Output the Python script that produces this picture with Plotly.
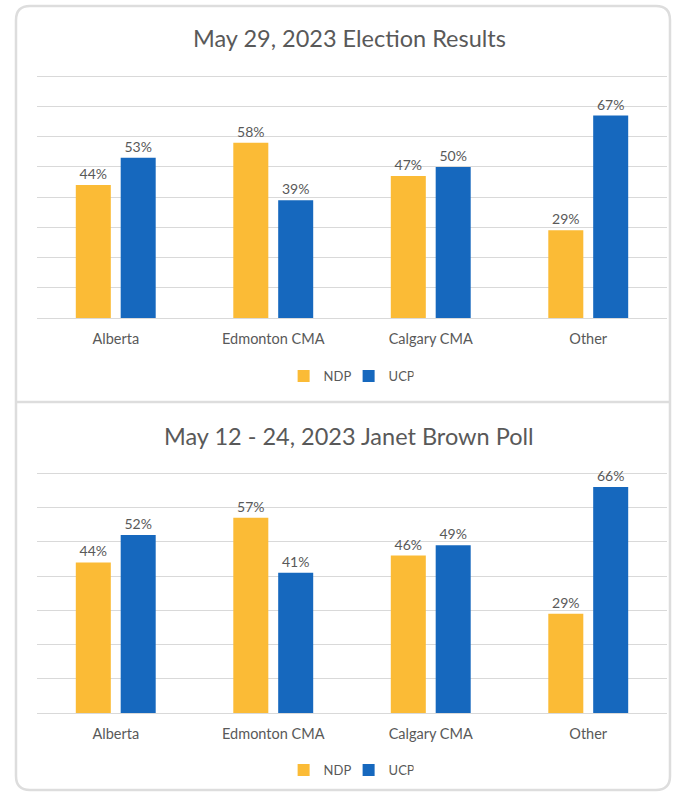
import plotly.graph_objects as go

categories = ["Alberta", "Edmonton CMA", "Calgary CMA", "Other"]
election_ndp = [44, 58, 47, 29]
election_ucp = [53, 39, 50, 67]
poll_ndp = [44, 57, 46, 29]
poll_ucp = [52, 41, 49, 66]
titles = ["May 29, 2023 Election Results", "May 12 - 24, 2023 Janet Brown Poll"]

NDP_COLOR = "#FBBB36"
UCP_COLOR = "#1668BE"
TXT = "#595959"
FONT = "Lato, 'Open Sans', sans-serif"

W, H = 673, 792


def py(px):
    return 1 - px / H


fig = go.Figure()

panels = [
    (election_ndp, election_ucp, "x", "y", "legend"),
    (poll_ndp, poll_ucp, "x2", "y2", "legend2"),
]
for ndp, ucp, xa, ya, lg in panels:
    for name, vals, col in [("NDP", ndp, NDP_COLOR), ("UCP", ucp, UCP_COLOR)]:
        fig.add_trace(go.Bar(
            x=categories, y=vals, name=name, marker_color=col,
            marker_line_width=0,
            text=[f"{v}%" for v in vals], textposition="outside",
            textfont=dict(size=14, color=TXT, family=FONT),
            cliponaxis=False,
            xaxis=xa, yaxis=ya, legend=lg,
        ))

axis_common = dict(showgrid=True, gridcolor="#D9D9D9", gridwidth=1,
                   showticklabels=False, zeroline=True, zerolinecolor="#D9D9D9",
                   zerolinewidth=1, showline=False, dtick=10, fixedrange=True)
xcommon = dict(showgrid=False, showline=False, zeroline=False,
               ticks="outside", ticklen=8, tickcolor="rgba(0,0,0,0)",
               tickfont=dict(size=14.5, color=TXT, family=FONT),
               domain=[37 / W, 667 / W], fixedrange=True)

legend_common = dict(orientation="h", x=0.518, xanchor="center", yanchor="middle",
                     font=dict(size=13, color=TXT, family=FONT), itemwidth=30,
                     entrywidth=20, entrywidthmode="pixels",
                     traceorder="normal", bgcolor="rgba(0,0,0,0)")

fig.update_layout(
    width=W, height=H,
    margin=dict(l=0, r=0, t=0, b=0),
    paper_bgcolor="white", plot_bgcolor="white",
    barmode="group", bargap=0.43, bargroupgap=0.22,
    font=dict(family=FONT, color=TXT),
    xaxis=dict(anchor="y", **xcommon),
    xaxis2=dict(anchor="y2", **xcommon),
    yaxis=dict(anchor="x", domain=[py(318), py(75)], range=[0, 80.4], **axis_common),
    yaxis2=dict(anchor="x2", domain=[py(713), py(472)], range=[0, 70.4], **axis_common),
    legend=dict(y=py(376), **legend_common),
    legend2=dict(y=py(770), **legend_common),
    annotations=[
        dict(text=titles[0], x=349 / W, y=py(38), xref="paper", yref="paper",
             xanchor="center", yanchor="middle",
             showarrow=False, font=dict(size=23.5, color=TXT, family=FONT)),
        dict(text=titles[1], x=349 / W, y=py(436), xref="paper", yref="paper",
             xanchor="center", yanchor="middle",
             showarrow=False, font=dict(size=23.5, color=TXT, family=FONT)),
    ],
)

# card outline with rounded corners (paper coordinates)
r = 14
x0, x1 = 16, 670
y0, y1 = 6, 790


def P(x, y):
    return f"{x / W:.5f},{py(y):.5f}"


path = (f"M {P(x0, y1 - r)} L {P(x0, y0 + r)} Q {P(x0, y0)} {P(x0 + r, y0)} "
        f"L {P(x1 - r, y0)} Q {P(x1, y0)} {P(x1, y0 + r)} "
        f"L {P(x1, y1 - r)} Q {P(x1, y1)} {P(x1 - r, y1)} "
        f"L {P(x0 + r, y1)} Q {P(x0, y1)} {P(x0, y1 - r)} Z")
fig.add_shape(type="path", path=path, xref="paper", yref="paper",
              line=dict(color="#DDDDDD", width=2.5), layer="below")
fig.add_shape(type="line", x0=x0 / W, x1=x1 / W, y0=py(402), y1=py(402),
              xref="paper", yref="paper", line=dict(color="#DDDDDD", width=2.5))

fig.write_html("out.html", config={"displayModeBar": False},
               post_script="document.body.style.margin='0px';")
